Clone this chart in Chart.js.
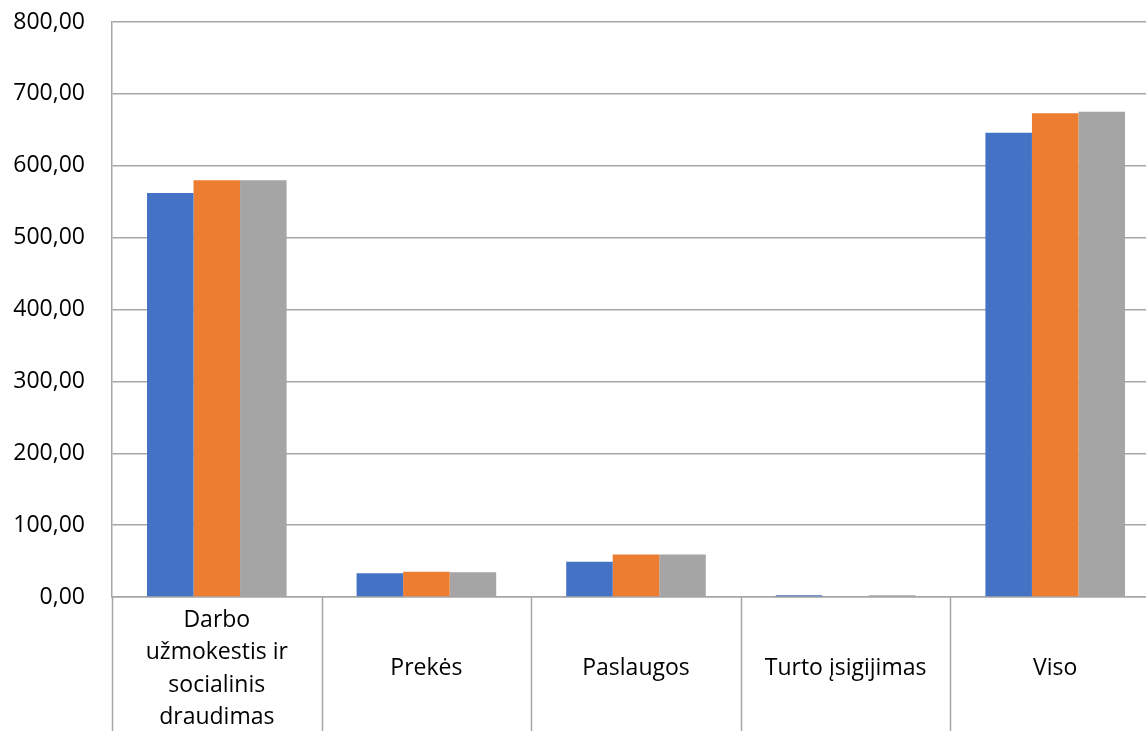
<!DOCTYPE html>
<html>
<head>
<meta charset="utf-8">
<script src="https://cdn.jsdelivr.net/npm/chart.js@4.4.0/dist/chart.umd.min.js"></script>
<style>
  html, body { margin: 0; padding: 0; background: #fff; overflow: hidden; }
  #wrap { width: 1146px; height: 731px; overflow: hidden; }
</style>
</head>
<body>
<div id="wrap">
  <canvas id="expensesChart" width="1160" height="731" style="width:1160px;height:731px"></canvas>
</div>
<script>
// categories and values
const categories = [
  ["Darbo", "užmokestis ir", "socialinis", "draudimas"],
  "Prekės",
  "Paslaugos",
  "Turto įsigijimas",
  "Viso"
];
const seriesBlue = [562, 33, 49, 2.5, 646];
const seriesOrange = [580, 35, 59, 0, 673];
const seriesGray = [580, 34.5, 59, 2.5, 675];
const yTicks = [0, 100, 200, 300, 400, 500, 600, 700, 800];

const gridColor = "#a6a6a6";
const fontFamily = "'Open Sans', Lato, sans-serif";

// vertical dividers between categories, below the x axis
const categoryDividers = {
  id: "categoryDividers",
  afterDraw(chart) {
    const x = chart.scales.x;
    const ctx = chart.ctx;
    ctx.save();
    ctx.strokeStyle = gridColor;
    ctx.lineWidth = 1.5;
    for (let i = 0; i <= categories.length; i++) {
      const px = Math.round(x.getPixelForValue(i - 0.5)) + 0.5;
      ctx.beginPath();
      ctx.moveTo(px, x.top);
      ctx.lineTo(px, chart.height);
      ctx.stroke();
    }
    ctx.restore();
  }
};

const ctx = document.getElementById("expensesChart").getContext("2d");
new Chart(ctx, {
  type: "bar",
  data: {
    labels: categories,
    datasets: [
      { label: "1", data: seriesBlue, backgroundColor: "#4472c4" },
      { label: "2", data: seriesOrange, backgroundColor: "#ed7d31" },
      { label: "3", data: seriesGray, backgroundColor: "#a5a5a5" }
    ]
  },
  options: {
    responsive: false,
    animation: false,
    layout: { padding: { top: 22, right: 0, left: 0, bottom: 0 } },
    datasets: {
      bar: { categoryPercentage: 0.666, barPercentage: 1.0 }
    },
    plugins: {
      legend: { display: false },
      tooltip: { enabled: false }
    },
    scales: {
      x: {
        offset: true,
        grid: { display: false },
        border: { display: true, color: gridColor, width: 1.5 },
        ticks: {
          color: "#000",
          font: { family: fontFamily, size: 23, lineHeight: "32.5px" },
          autoSkip: false,
          maxRotation: 0,
          minRotation: 0,
          crossAlign: "center",
          padding: 15
        },
        afterFit: (s) => { s.height = 134; }
      },
      y: {
        min: 0,
        max: 800,
        afterBuildTicks: (s) => { s.ticks = yTicks.map((v) => ({ value: v })); },
        grid: { color: gridColor, lineWidth: 1.5, drawTicks: false },
        border: { display: true, color: gridColor, width: 1.5 },
        ticks: {
          color: "#000",
          font: { family: fontFamily, size: 23 },
          padding: 27,
          callback: (v) => v.toFixed(2).replace(".", ",")
        },
        afterFit: (s) => {
          s.width = 112;
          s.paddingTop = 0;
          s.paddingBottom = 0;
        }
      }
    }
  },
  plugins: [categoryDividers]
});
</script>
</body>
</html>
